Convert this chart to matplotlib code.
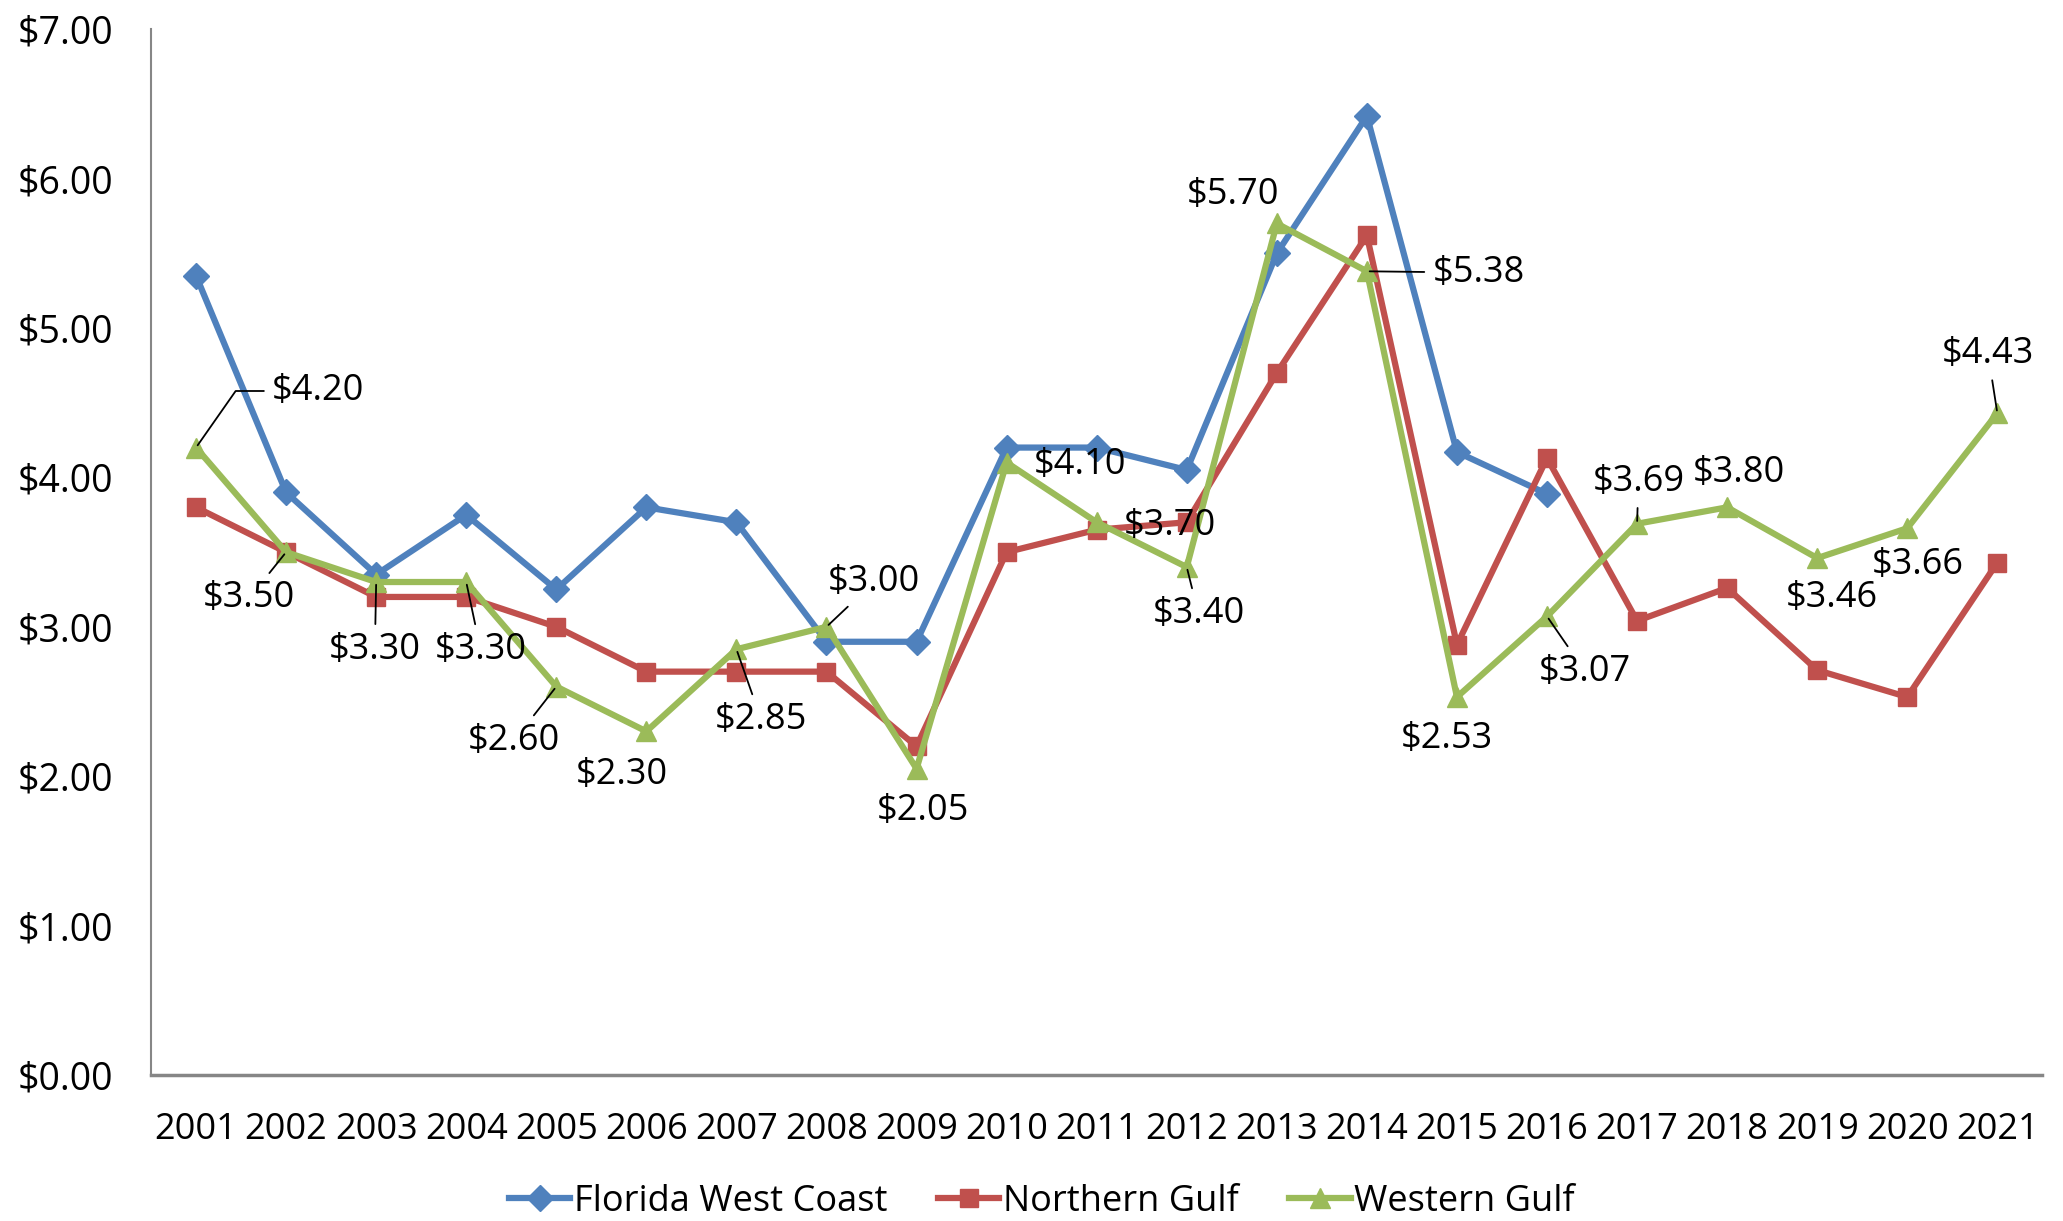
import matplotlib
matplotlib.use("Agg")
import matplotlib.pyplot as plt

years = [str(y) for y in range(2001, 2022)]

florida_west_coast = [5.35, 3.90, 3.35, 3.75, 3.25, 3.80, 3.70, 2.90, 2.90, 4.20,
                      4.20, 4.05, 5.50, 6.42, 4.17, 3.89]
northern_gulf = [3.80, 3.50, 3.20, 3.20, 3.00, 2.70, 2.70, 2.70, 2.20, 3.50, 3.65,
                 3.70, 4.70, 5.62, 2.88, 4.13, 3.04, 3.26, 2.71, 2.53, 3.43]
western_gulf = [4.20, 3.50, 3.30, 3.30, 2.60, 2.30, 2.85, 3.00, 2.05, 4.10, 3.70,
                3.40, 5.70, 5.38, 2.53, 3.07, 3.69, 3.80, 3.46, 3.66, 4.43]

# label offsets (px in the 1568-wide preview, y down) and whether a leader line is drawn
label_offsets = [(93, -43), (-28, 35), (-1, 52), (11, 52), (-32, 41), (-19, 33),
                 (19, 54), (36, -34), (5, 32), (56, 2), (56, 3), (9, 36),
                 (-33, -22), (85, 1), (-8, 32), (29, 42), (1, -32), (9, -26),
                 (11, 30), (8, 28), (-7, -45)]
leaders = [True, True, True, True, True, False, True, True, False, False, False, True,
           False, True, False, True, True, False, False, False, True]

BLUE, RED, GREEN = "#4F81BD", "#C0504D", "#9BBB59"
FS = 26

plt.rcParams['font.family'] = ['Open Sans', 'DejaVu Sans']

fig = plt.figure(figsize=(20.63, 12.21), dpi=100)
ax = fig.add_axes([0.0732, 0.1196, 0.9168, 0.8564])

x_fwc = list(range(len(florida_west_coast)))
x_all = list(range(len(years)))

ax.plot(x_fwc, florida_west_coast, color=BLUE, lw=4.5, marker='D', ms=13,
        label='Florida West Coast')
ax.plot(x_all, northern_gulf, color=RED, lw=4.5, marker='s', ms=13,
        label='Northern Gulf')
ax.plot(x_all, western_gulf, color=GREEN, lw=4.5, marker='^', ms=15,
        label='Western Gulf')

scale = 2063 / 1568
for i, v in enumerate(western_gulf):
    dx, dy = label_offsets[i]
    kw = {}
    if leaders[i]:
        kw['arrowprops'] = dict(arrowstyle='-', color='black', lw=1.3,
                                shrinkA=4, shrinkB=2)
        if i == 0:
            kw['arrowprops']['connectionstyle'] = 'angle,angleA=180,angleB=55,rad=0'
    ax.annotate('${:.2f}'.format(v), (i, v), xytext=(dx * scale, -dy * scale),
                textcoords='offset pixels', ha='center', va='center',
                fontsize=FS, color='black', zorder=5, **kw)

ax.set_xlim(-0.5, len(years) - 0.5)
ax.set_ylim(0, 7)
ax.set_xticks(x_all)
ax.set_xticklabels(years)
ax.set_yticks([0, 1, 2, 3, 4, 5, 6, 7])
ax.set_yticklabels(['${:.2f}'.format(t) for t in range(8)])
ax.tick_params(axis='both', length=0, labelsize=FS)
ax.tick_params(axis='y', pad=27, labelsize=27)
ax.tick_params(axis='x', pad=27)

for s in ['top', 'right']:
    ax.spines[s].set_visible(False)
ax.spines['left'].set_color('#868686')
ax.spines['left'].set_linewidth(1.5)
ax.spines['bottom'].set_color('#868686')
ax.spines['bottom'].set_linewidth(2.5)

fig.legend(loc='center', bbox_to_anchor=(0.505, 0.0155), ncol=3, frameon=False,
           fontsize=FS, handlelength=1.7, columnspacing=1.4, handletextpad=0.1,
           borderpad=0)

fig.savefig('out.png', dpi=100)
